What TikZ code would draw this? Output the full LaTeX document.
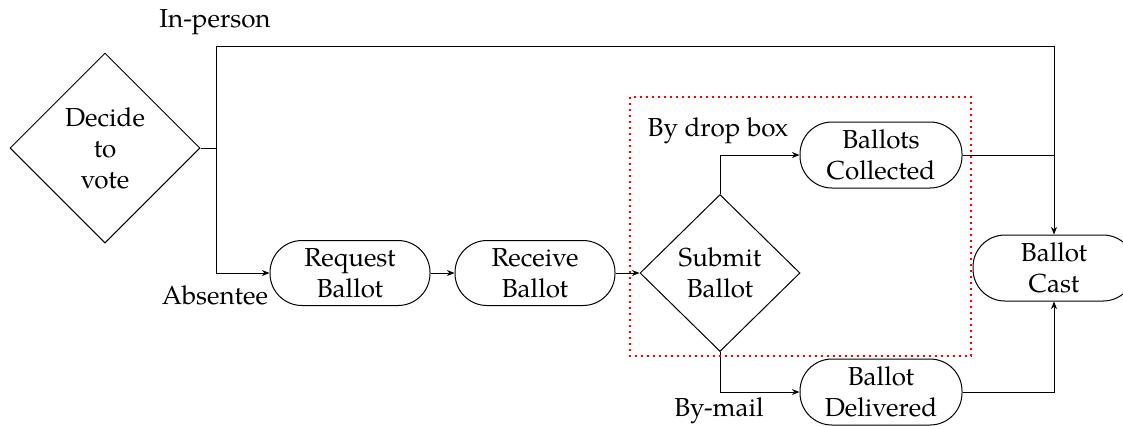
\documentclass[tikz,border=0pt]{standalone}
\usepackage{fontspec}
\setmainfont{texgyrepagella-regular.otf}
\usetikzlibrary{shapes.geometric,arrows.meta}

\begin{document}
\begin{tikzpicture}[x=0.5pt,y=-0.5pt,
  font=\fontsize{13}{15.5}\selectfont,
  link/.style={line width=0.5pt},
  flow/.style={link, -{Stealth[length=3.8pt,width=3pt]}},
  decision/.style={draw, diamond, line width=0.5pt, inner sep=0pt, align=center},
  stadium/.style={draw, rectangle, rounded corners=16pt, line width=0.5pt,
    minimum width=80pt, minimum height=32.5pt, align=center, inner sep=0pt},
  lbl/.style={inner sep=0pt}]
\useasboundingbox (0,0) rectangle (1123,425);

% process nodes
\node[decision, minimum width=95pt, minimum height=95pt] (decide) at (105,148) {Decide\\to\\vote};
\node[stadium] (request) at (350,273) {Request\\Ballot};
\node[stadium] (receive) at (535,273) {Receive\\Ballot};
\node[decision, minimum width=80pt, minimum height=78.5pt] (submit) at (720,273) {Submit\\Ballot};
\node[stadium, minimum width=81pt, minimum height=33pt] (collected) at (881,155) {Ballots\\Collected};
\node[stadium, minimum width=81pt, minimum height=33pt] (delivered) at (881,392) {Ballot\\Delivered};
\node[stadium, minimum width=81pt, minimum height=33pt] (cast) at (1054,268) {Ballot\\Cast};

% branch labels
\node[lbl] (inperson) at (215,22) {In-person};
\node[lbl] (absentee) at (215,295) {Absentee};
\node[lbl] (dropbox) at (718,131) {By drop box};
\node[lbl] (bymail) at (719,411) {By-mail};

% routing points
\coordinate (split) at (216,148);
\coordinate (top) at (216,46);

% connectors
\draw[link] (decide.east) -- (split);
\draw[flow] (split) -- (top) -| (cast.north);
\draw[flow] (split) |- (request.west);
\draw[flow] (request) -- (receive);
\draw[flow] (receive) -- (submit.west);
\draw[flow] (submit.north) |- (collected.west);
\draw[flow] (submit.south) |- (delivered.west);
\draw[link] (collected.east) -- (collected.east -| cast.north);
\draw[flow] (delivered.east) -| (cast.south);

% submission options group
\draw[red, line width=1pt, dash pattern=on 1pt off 2pt] (630,97) rectangle (971,356);
\end{tikzpicture}
\end{document}
